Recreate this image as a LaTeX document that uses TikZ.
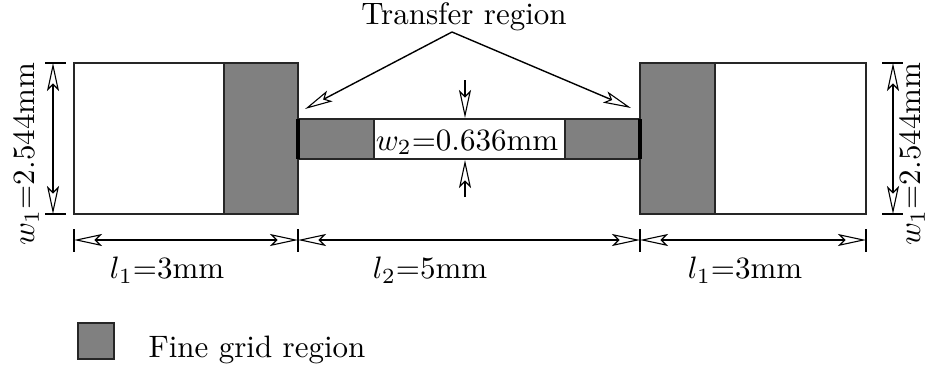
\documentclass[tikz,border=0pt]{standalone}
\usetikzlibrary{arrows.meta}
\begin{document}
\begin{tikzpicture}[x=1pt,y=-1pt,
  lbl/.style={inner sep=0pt,scale=3.1,font=\fontsize{10}{12}\selectfont},
  part/.style={draw=black!85,line width=1.6pt},
  fine/.style={part,fill=black!50},
  ah/.tip={Stealth[open,length=28pt,width=12pt,inset=6pt,line width=1.1pt]},
  dimarr/.style={line width=1.4pt,ah-ah},
  onearr/.style={line width=1.4pt,-ah},
  tick/.style={line width=1.4pt}]
\useasboundingbox (0,0) rectangle (930,370);
% left block
\draw[part,fill=white] (74,63) rectangle (224,214);
\draw[fine] (224,63) rectangle (298,214);
% right block
\draw[fine] (640,63) rectangle (715,214);
\draw[part,fill=white] (715,63) rectangle (866,214);
% channel
\draw[fine] (298,119) rectangle (374,159);
\draw[part,fill=white] (374,119) rectangle (565,159);
\draw[fine] (565,119) rectangle (640,159);
\draw[line width=4.5pt] (298,119) -- (298,159);
\draw[line width=4.5pt] (640,119) -- (640,159);
% horizontal dims
\foreach \x/\n in {74/t1,298/t2,640/t3,866/t4}{
  \coordinate (\n) at (\x,240);
  \draw[tick] (\x,229) -- (\x,252);
}
\draw[dimarr] (t1) -- (t2);
\draw[dimarr] (t2) -- (t3);
\draw[dimarr] (t3) -- (t4);
\node[lbl] (l1a) at (167,270) {$l_1$=3mm};
\node[lbl] (l2) at (430,270) {$l_2$=5mm};
\node[lbl] (l1b) at (745,270) {$l_1$=3mm};
% vertical dims
\coordinate (v1) at (53,63); \coordinate (v2) at (53,214);
\coordinate (v3) at (893,63); \coordinate (v4) at (893,214);
\draw[tick] (45,63) -- (66,63); \draw[tick] (45,214) -- (66,214);
\draw[tick] (882,63) -- (903,63); \draw[tick] (882,214) -- (903,214);
\draw[dimarr] (v1) -- (v2);
\draw[dimarr] (v3) -- (v4);
\node[lbl,rotate=90] (w1a) at (26,154) {$w_1$=2.544mm};
\node[lbl,rotate=90] (w1b) at (912,154) {$w_1$=2.544mm};
% w2
\node[lbl] (w2) at (467,142) {$w_2$=0.636mm};
\coordinate (w2a) at (465,80); \coordinate (w2b) at (465,118);
\coordinate (w2c) at (465,197); \coordinate (w2d) at (465,160);
\draw[onearr] (w2a) -- (w2b);
\draw[onearr] (w2c) -- (w2d);
% transfer region
\node[lbl] (tr) at (464,17) {Transfer region};
\coordinate (apex) at (452,32);
\coordinate (tl) at (305,109);
\coordinate (trr) at (631,108);
\draw[onearr] (apex) -- (tl);
\draw[onearr] (apex) -- (trr);
% legend
\draw[fine] (78,323) rectangle (114,359);
\node[lbl,anchor=west] (leg) at (148,350) {Fine grid region};
\end{tikzpicture}
\end{document}
